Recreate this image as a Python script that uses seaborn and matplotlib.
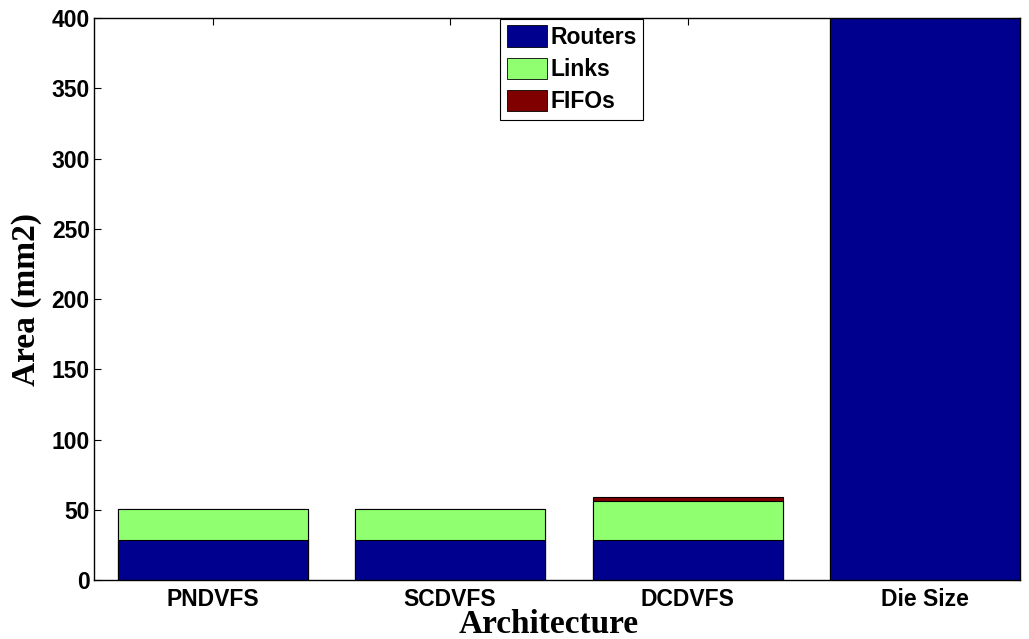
import numpy as np
import pandas as pd
import matplotlib
matplotlib.use("Agg")
import matplotlib.pyplot as plt
import matplotlib.patches as mpatches
import seaborn as sns

# ── Data ─────────────────────────────────────────────────────────────────────
architectures = ["PNDVFS", "SCDVFS", "DCDVFS", "Die Size"]
routers = [28.3, 28.3, 28.3, 400.0]
links   = [22.2, 22.2, 27.7, 0.0]
fifos   = [0.0, 0.0, 2.9, 0.0]

COLORS = {"Routers": "#00008F", "Links": "#90FF70", "FIFOs": "#800000"}

sns.set_theme(style="ticks")
plt.rcParams["font.family"] = ["Liberation Sans", "DejaVu Sans"]
plt.rcParams["text.color"] = "black"
plt.rcParams["axes.labelcolor"] = "black"
plt.rcParams["xtick.color"] = "black"
plt.rcParams["ytick.color"] = "black"

df = pd.DataFrame({"arch": architectures,
                   "Routers": routers, "Links": links, "FIFOs": fifos})
df["lvl1"] = df["Routers"]
df["lvl2"] = df["Routers"] + df["Links"]
df["lvl3"] = df["lvl2"] + df["FIFOs"]

fig = plt.figure(figsize=(10.29, 6.39), dpi=100)
ax = fig.add_axes([0.0913, 0.0923, 0.9000, 0.8795])

# stacked bars by layering cumulative totals
for col, name in [("lvl3", "FIFOs"), ("lvl2", "Links"), ("lvl1", "Routers")]:
    sns.barplot(data=df, x="arch", y=col, color=COLORS[name], saturation=1,
                width=0.8, edgecolor="black", linewidth=0.8, ax=ax)

ax.set_ylim(0, 400)
ax.set_xlim(-0.5, 3.4)
ax.set_yticks(np.arange(0, 401, 50))
ax.set_axisbelow(True)
ax.tick_params(direction="in", length=5, width=0.8, top=True, right=True,
               labelsize=16.5)
ax.tick_params(axis="y", pad=3)
ax.tick_params(axis="x", pad=6)
for lbl in ax.get_xticklabels() + ax.get_yticklabels():
    lbl.set_fontweight("bold")
for sp in ax.spines.values():
    sp.set_visible(True)
    sp.set_linewidth(1.0)
    sp.set_color("black")

ax.set_xlabel("Architecture", fontsize=24, fontweight="bold",
              family="Liberation Serif")
ax.set_ylabel("Area (mm2)", fontsize=24, fontweight="bold",
              family="Liberation Serif")
ax.xaxis.set_label_coords(0.491, -0.051)
ax.yaxis.set_label_coords(-0.056, 0.5)

handles = [mpatches.Patch(facecolor=COLORS[k], edgecolor="black", linewidth=0.6,
                          label=k) for k in ["Routers", "Links", "FIFOs"]]
leg = ax.legend(handles=handles, loc="upper center", bbox_to_anchor=(0.516, 0.999),
                frameon=True, fancybox=False, framealpha=1, edgecolor="black",
                prop={"weight": "bold", "size": 16.5}, handlelength=1.75,
                handleheight=1.07, handletextpad=0.13, labelspacing=0.37,
                borderpad=0.3, borderaxespad=0.0)
leg.get_frame().set_linewidth(0.8)

fig.savefig("out.png", dpi=100)
